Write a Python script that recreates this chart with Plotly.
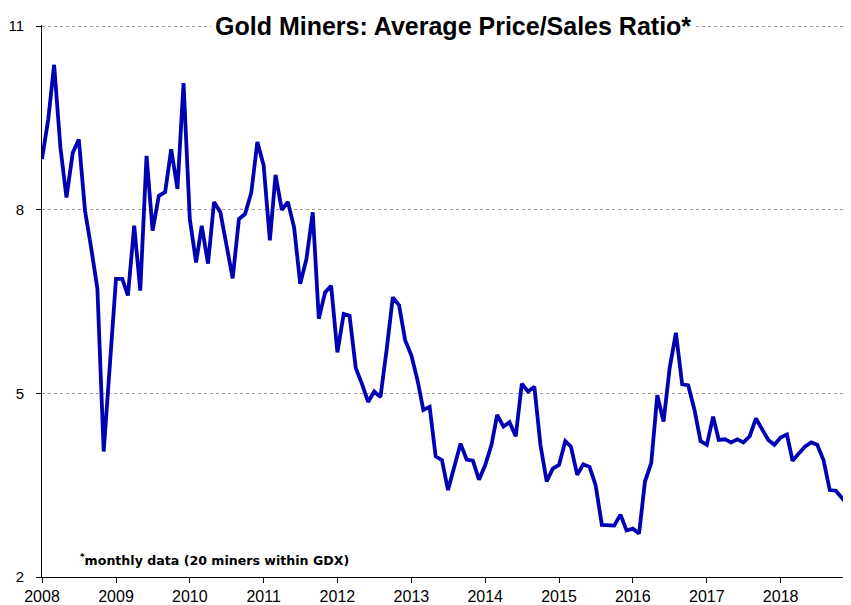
import pandas as pd
import plotly.graph_objects as go

# Monthly average price/sales ratio, Jan 2008 .. Jan 2019
start_month = "2008-01-01"
ratio = [
    8.83, 9.48, 10.37, 9.02, 8.20, 8.93, 9.15, 7.98, 7.36, 6.71, 4.05, 5.45,
    6.87, 6.87, 6.60, 7.74, 6.68, 8.88, 7.66, 8.23, 8.29, 8.99, 8.34, 10.07,
    7.85, 7.14, 7.74, 7.12, 8.13, 7.96, 7.41, 6.88, 7.85, 7.93, 8.28, 9.11,
    8.73, 7.50, 8.57, 8.00, 8.13, 7.71, 6.79, 7.20, 7.96, 6.22, 6.65, 6.76,
    5.67, 6.30, 6.27, 5.41, 5.16, 4.86, 5.03, 4.94, 5.73, 6.57, 6.44, 5.87,
    5.62, 5.20, 4.73, 4.78, 3.97, 3.91, 3.42, 3.80, 4.18, 3.92, 3.90, 3.59,
    3.83, 4.16, 4.65, 4.46, 4.53, 4.30, 5.16, 5.03, 5.11, 4.16, 3.56, 3.77,
    3.83, 4.22, 4.13, 3.67, 3.84, 3.80, 3.50, 2.85, 2.84, 2.84, 3.02, 2.76,
    2.79, 2.71, 3.56, 3.86, 4.97, 4.54, 5.41, 5.99, 5.15, 5.13, 4.73, 4.22,
    4.16, 4.62, 4.24, 4.25, 4.20, 4.25, 4.20, 4.30, 4.59, 4.41, 4.24, 4.16,
    4.28, 4.33, 3.90, 4.02, 4.13, 4.20, 4.16, 3.91, 3.42, 3.41, 3.29, 3.17,
    3.50,
]
months = pd.date_range(start_month, periods=len(ratio), freq="MS")

year_ticks = [f"{y}-01-01" for y in range(2008, 2019)]
year_labels = [str(y) for y in range(2008, 2019)]
y_ticks = [2, 5, 8, 11]

title_text = "Gold Miners: Average Price/Sales Ratio*"
note_text = "<sup>*</sup>monthly data (20 miners within GDX)"

fig = go.Figure()
fig.add_trace(go.Scatter(
    x=months, y=ratio, mode="lines",
    line=dict(color="#0000b4", width=3.8),
    hoverinfo="skip", showlegend=False,
))

fig.update_layout(
    width=843, height=597,
    margin=dict(l=34, r=0, t=17, b=25),
    paper_bgcolor="white", plot_bgcolor="white",
    font=dict(family="Liberation Sans, Arial, sans-serif", color="black", size=14),
    xaxis=dict(
        type="date", range=["2008-01-01", "2018-12-15"],
        tickvals=year_ticks, ticktext=year_labels,
        ticks="outside", ticklen=5, tickcolor="black",
        showline=True, linecolor="black", linewidth=1,
        showgrid=False, zeroline=False,
        tickfont=dict(size=16, color="black"),
    ),
    yaxis=dict(
        range=[2, 11.02], tickvals=y_ticks, ticktext=[str(v) for v in y_ticks],
        ticks="outside", ticklen=5, tickcolor="black",
        ticklabelstandoff=9,
        showline=True, linecolor="black", linewidth=1,
        showgrid=True, gridcolor="#a0a0a0", gridwidth=1, griddash="dot",
        zeroline=False,
        tickfont=dict(size=15, color="black"),
    ),
    annotations=[
        dict(
            text=f"<b>{title_text}</b>", xref="paper", yref="y",
            x=0.508, y=11, xanchor="center", yanchor="middle",
            showarrow=False, bgcolor="white", borderpad=3,
            font=dict(family="Liberation Sans, Arial, sans-serif", size=25, color="black"),
        ),
        dict(
            text=f"<b>{note_text}</b>", xref="paper", yref="y",
            x=0.044, y=2.28, xanchor="left", yanchor="middle",
            showarrow=False,
            font=dict(family="DejaVu Sans, Verdana, sans-serif", size=12.6, color="black"),
        ),
    ],
)

fig.write_html("out.html")
